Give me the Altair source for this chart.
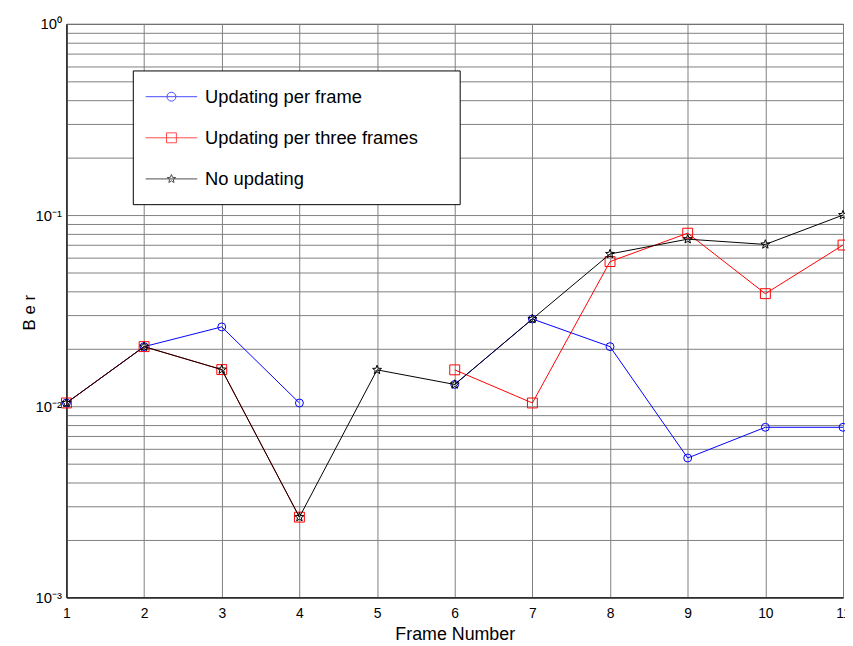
import math
import altair as alt
import pandas as pd

# ---------------- data ----------------
frames = list(range(1, 12))
series_names = ["Updating per frame", "Updating per three frames", "No updating"]
ber_per_frame = [0.0104, 0.0205, 0.0260, 0.0104, None, 0.0130, 0.0286, 0.0205, 0.00536, 0.00776, 0.00776]
ber_per_three = [0.0104, 0.0205, 0.01555, 0.00263, None, 0.0155, 0.0104, 0.0571, 0.0804, 0.0388, 0.0697]
ber_no_update = [0.0104, 0.0205, 0.01555, 0.00263, 0.0155, 0.0130, 0.0286, 0.0626, 0.0748, 0.0702, 0.1000]
series_values = [ber_per_frame, ber_per_three, ber_no_update]
colors = ["#0000ff", "#ff0000", "#000000"]
y_major = [0.001, 0.01, 0.1, 1]
y_major_labels = ["10⁻³", "10⁻²", "10⁻¹", "10⁰"]

rows = []
for name, vals in zip(series_names, series_values):
    seg = 0
    for f, v in zip(frames, vals):
        if v is None:
            seg += 1
            continue
        rows.append({"series": name, "frame": f, "ber": v, "seg": seg})
df = pd.DataFrame(rows)

grid_vals = []
for d in (-3, -2, -1):
    for k in range(1, 10):
        grid_vals.append(k * 10 ** d)
grid_vals.append(1)
grid_vals[0] = 0.001
grid_vals[9] = 0.01
grid_vals[18] = 0.1

label_expr = " : ".join(
    f"datum.value == {v} ? '{lab}'" for v, lab in zip(y_major, y_major_labels)
) + " : ''"

FONT = "Liberation Sans"


def star_path(cx, r_out, r_in):
    pts = []
    for i in range(10):
        r = r_out if i % 2 == 0 else r_in
        a = -math.pi / 2 + i * math.pi / 5
        pts.append((cx + r * math.cos(a), r * math.sin(a)))
    return "M" + "L".join(f"{x:.3f},{y:.3f}" for x, y in pts) + "Z"


marker_shapes = ["circle", "square", star_path(0, 1.0, 0.42)]
marker_sizes = [64, 100, 90]

x_enc = alt.X(
    "frame:Q",
    scale=alt.Scale(domain=[1, 11], nice=False, zero=False),
    axis=alt.Axis(
        values=frames, title="Frame Number", format="d", ticks=False,
        labelFontSize=14, labelPadding=9, labelFlush=False,
        titleFontSize=18, titleFontWeight="normal", titleBaseline="alphabetic", titleY=43,
        grid=True,
    ),
)
y_enc = alt.Y(
    "ber:Q",
    scale=alt.Scale(type="log", domain=[0.001, 1], nice=False),
    axis=alt.Axis(
        values=grid_vals, labelExpr=label_expr, title="B e r", ticks=False,
        labelFontSize=15, labelPadding=5, labelOverlap=False,
        titleFontSize=17, titleFontWeight="normal", titleX=-28, titleY=291,
        grid=True,
    ),
)

layers = []
for name, col, shp, sz in zip(series_names, colors, marker_shapes, marker_sizes):
    base = alt.Chart(df).transform_filter(alt.datum.series == name)
    layers.append(
        base.mark_line(color=col, strokeWidth=1).encode(x=x_enc, y=y_enc, detail="seg:N")
    )
    layers.append(
        base.mark_point(shape=shp, color=col, filled=False, size=sz, strokeWidth=1, opacity=1).encode(x=x_enc, y=y_enc)
    )

# legend symbols: line with marker (custom SVG paths, 1 unit = 10 px at size 400)
L0, L1, MC = -1.35, 3.85, 1.25
line_p = f"M{L0},0H{L1}"
legend_paths = [
    line_p + f"M{MC+0.45},0A0.45,0.45,0,1,1,{MC-0.45},0A0.45,0.45,0,1,1,{MC+0.45},0",
    line_p + f"M{MC-0.5},-0.5H{MC+0.5}V0.5H{MC-0.5}Z",
    line_p + star_path(MC, 0.45, 0.19),
]

leg = alt.Legend(
    title=None, orient="none", legendX=67, legendY=47,
    symbolSize=400, symbolStrokeWidth=1, symbolFillColor="transparent",
    labelFont=FONT, labelFontSize=18.5, labelOffset=36, labelColor="black", labelLimit=500,
    labelExpr="datum.label + '\u00a0\u00a0\u00a0\u00a0\u00a0\u200b'",
    rowPadding=21.5, padding=16, strokeColor="black", fillColor="white",
)

legend_layer = alt.Chart(df).transform_filter("false").mark_point(filled=False, strokeWidth=1).encode(
    x=x_enc, y=y_enc,
    color=alt.Color("series:N", scale=alt.Scale(domain=series_names, range=colors), legend=leg),
    shape=alt.Shape("series:N", scale=alt.Scale(domain=series_names, range=legend_paths), legend=leg),
)
layers.append(legend_layer)

chart = alt.layer(*layers).properties(
    width=784, height=579,
    autosize=alt.AutoSizeParams(type="none"),
    padding={"left": 59, "top": 13, "right": 2, "bottom": 45},
).configure_view(
    stroke="black", strokeWidth=1
).configure_axis(
    labelFont=FONT, titleFont=FONT, labelColor="black", titleColor="black",
    domainColor="black", domainWidth=1, gridColor="#808080", gridWidth=1, gridOpacity=1,
)

chart.save("out.html", embed_options={"renderer": "svg", "actions": False})
